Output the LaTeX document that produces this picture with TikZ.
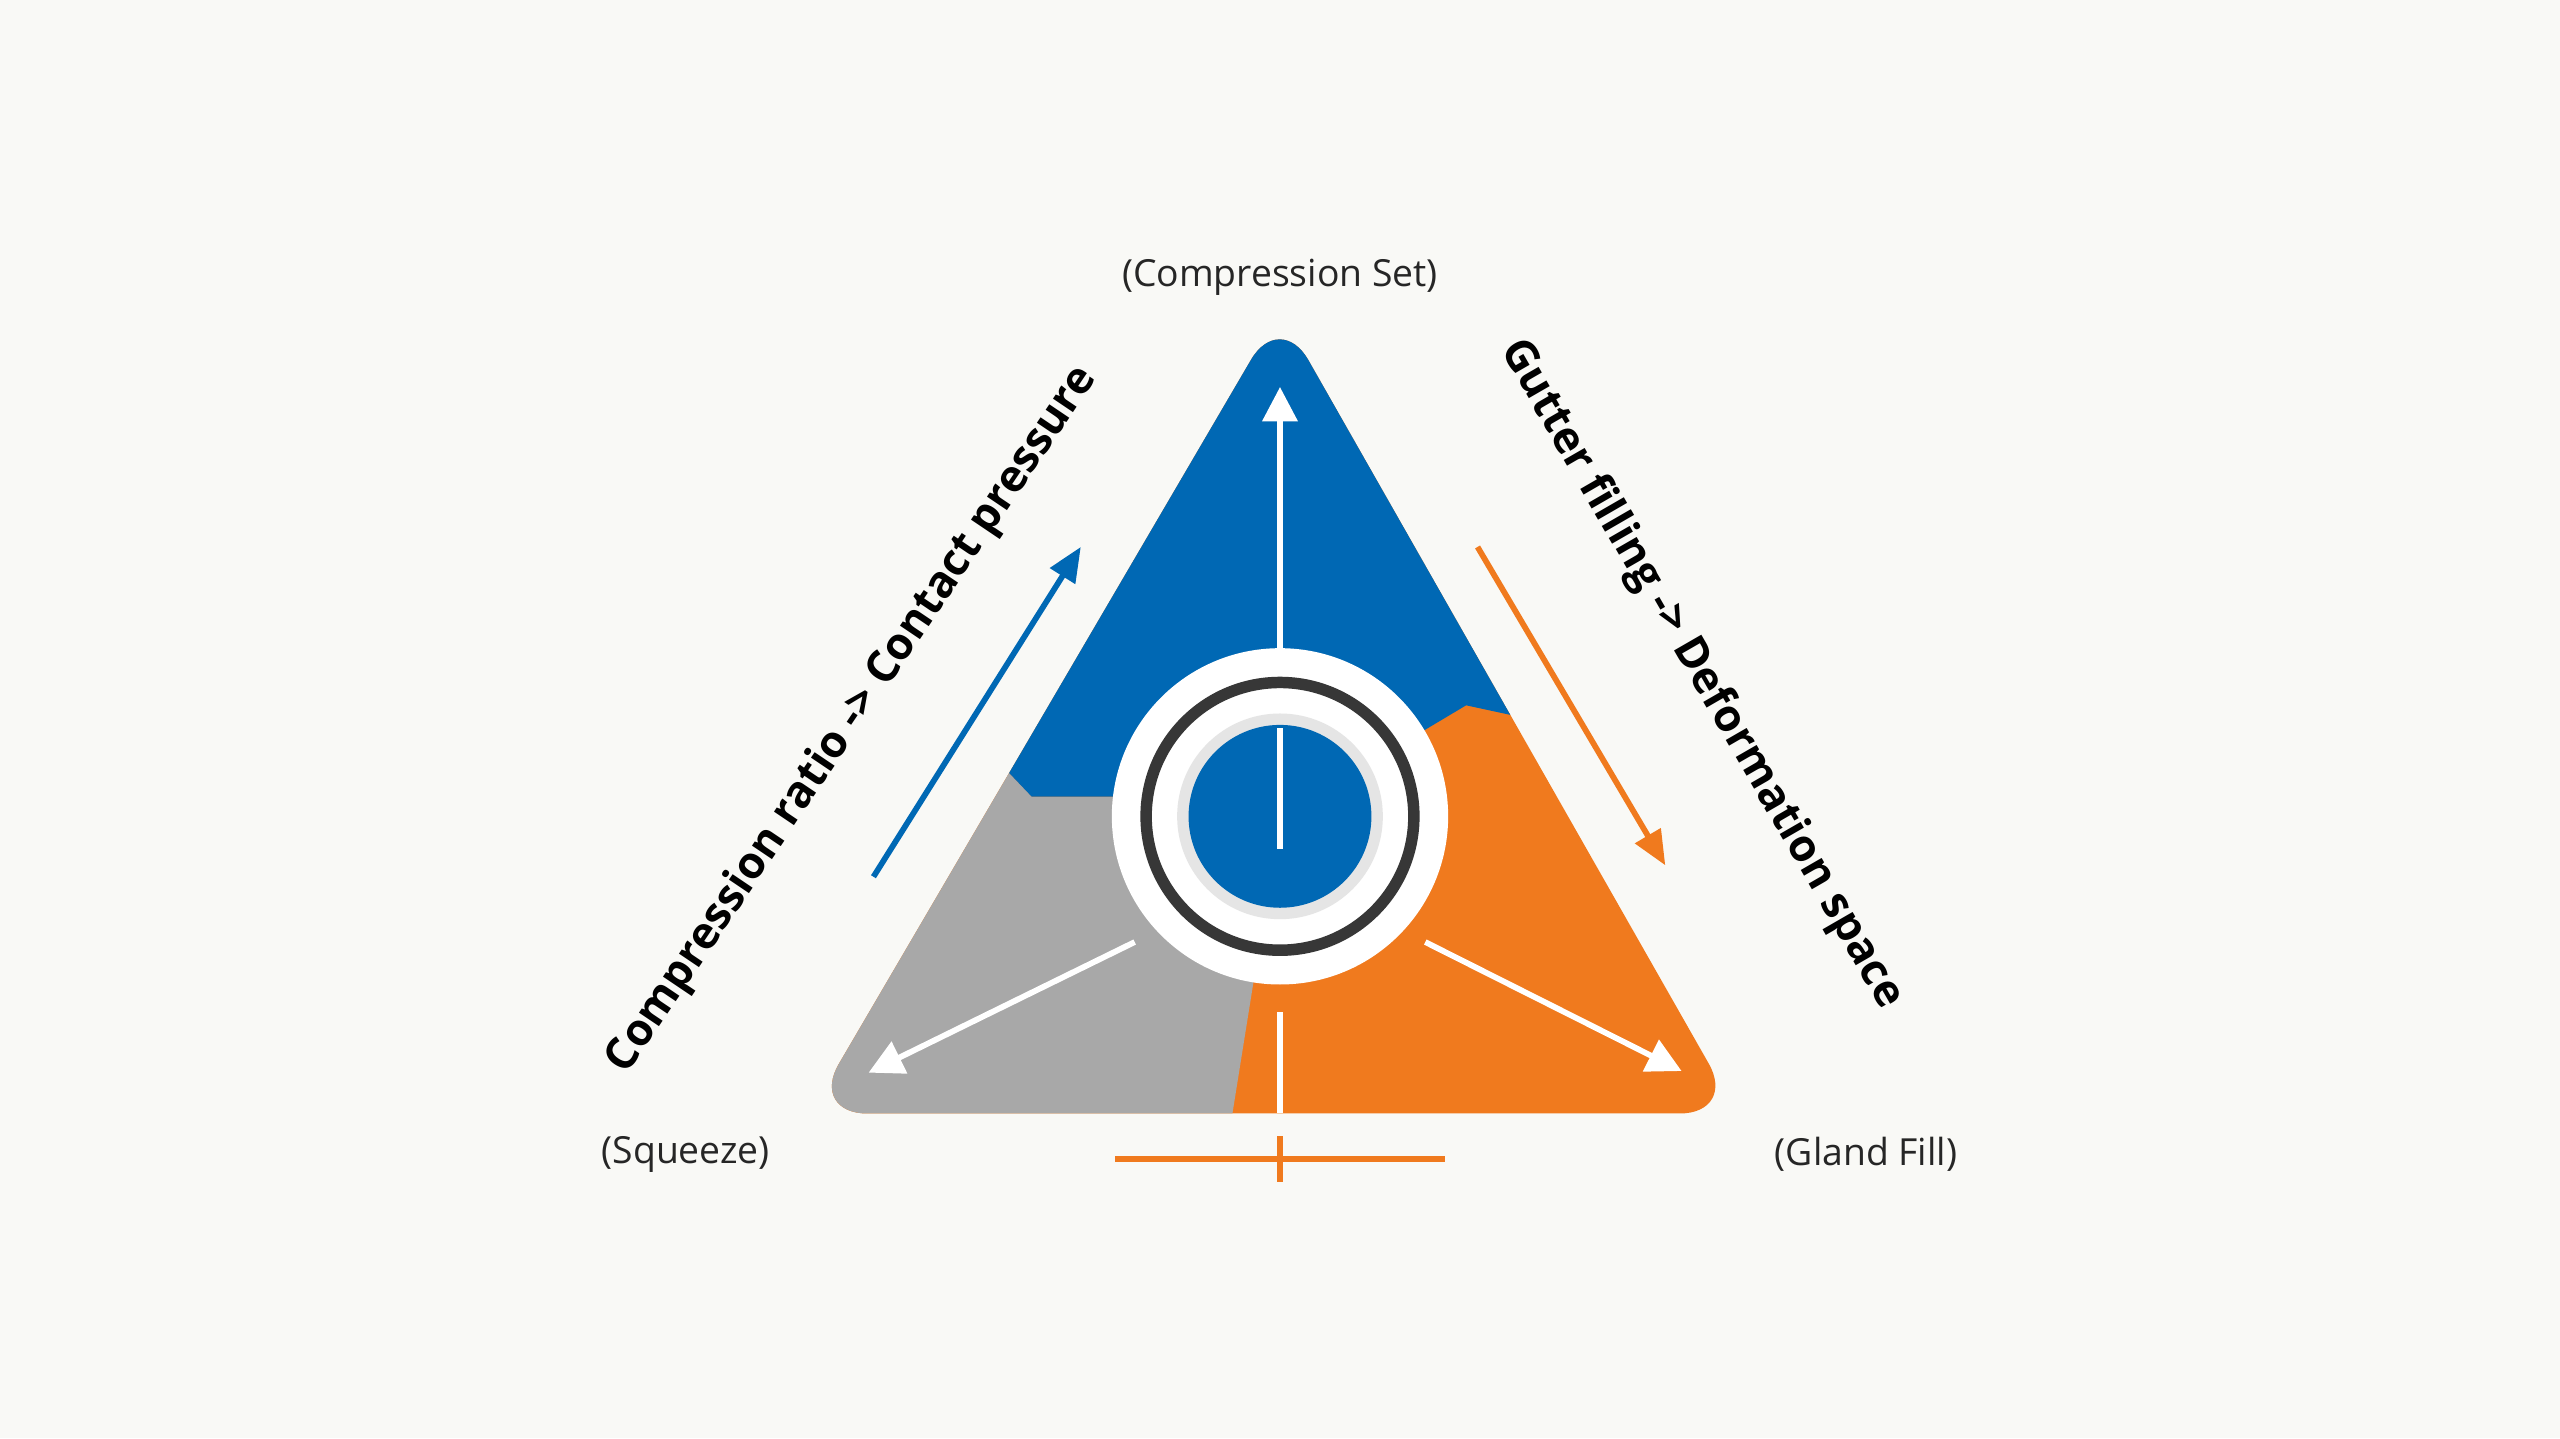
\documentclass[tikz,border=0pt]{standalone}
\usepackage{fontspec}
\setmainfont{Open Sans}
\usetikzlibrary{arrows.meta}
\definecolor{myBlue}{RGB}{0,104,180}
\definecolor{myOrange}{RGB}{240,122,30}
\definecolor{myGray}{RGB}{168,168,168}
\definecolor{myDark}{RGB}{55,55,55}
\definecolor{myPaper}{RGB}{249,249,246}

\begin{document}
\begin{tikzpicture}[x=0.01cm,y=-0.01cm,
    label/.style={font=\fontsize{6.5}{8}\selectfont, text=black!85},
    side/.style={font=\bfseries\fontsize{7.7}{9}\selectfont, text=black},
    white arrow/.style={draw=white, line width=1pt, -{Triangle[length=6pt,width=6pt]}},
]
% background and frame
\fill[myPaper] (0,0) rectangle (1568,881);
\useasboundingbox (0,0) rectangle (1568,881);

% corners of the triangle
\coordinate (top) at (784,190);
\coordinate (left) at (496,682);
\coordinate (right) at (1064,682);
\coordinate (mid) at (784,500);

% the three sectors, clipped to the rounded triangle
\begin{scope}
    \clip[rounded corners=10pt] (top) -- (right) -- (left) -- cycle;
    \fill[myOrange] (400,100) rectangle (1200,700);
    \fill[myGray] (400,467) -- (612,467) -- (632,488) -- (784,488)
        -- (768,600) -- (752,700) -- (400,700) -- cycle;
    \fill[myBlue] (400,100) -- (1200,100) -- (1200,452) -- (935,440)
        -- (898,432) -- (784,500) -- (784,488) -- (632,488)
        -- (612,467) -- (400,467) -- cycle;
\end{scope}

% sealing ring in the centre
\fill[white] (mid) circle (103);
\draw[myDark, line width=2pt] (mid) circle (82);
\fill[black!10] (mid) circle (63);
\fill[myBlue] (mid) circle (56);

% white arrows inside
\coordinate (c0) at (784,520);
\coordinate (c0b) at (784,446);
\coordinate (c1) at (784,398);
\coordinate (t1) at (784,237);
\coordinate (c2) at (695,577);
\coordinate (t2) at (532,657);
\coordinate (c3) at (873,577);
\coordinate (t3) at (1030,656);
\coordinate (c4) at (784,620);
\coordinate (t4) at (784,682);
\draw[white, line width=1pt] (c0) -- (c0b);
\draw[white arrow] (c1) -- (t1);
\draw[white arrow] (c2) -- (t2);
\draw[white arrow] (c3) -- (t3);
\draw[white, line width=1pt] (c4) -- (t4);

% gauge below
\coordinate (g1) at (683,710);
\coordinate (g2) at (885,710);
\coordinate (g3) at (784,696);
\coordinate (g4) at (784,724);
\draw[myOrange, line width=1pt] (g1) -- (g2);
\draw[myOrange, line width=1pt] (g3) -- (g4);

% side arrows
\coordinate (b1) at (535,537);
\coordinate (b2) at (662,335);
\coordinate (o1) at (905,335);
\coordinate (o2) at (1020,530);
\draw[myBlue, line width=1pt, -{Triangle[length=6pt,width=5pt]}] (b1) -- (b2);
\draw[myOrange, line width=1pt, -{Triangle[length=6pt,width=5pt]}] (o1) -- (o2);

% labels
\node[label] (setLabel) at (784,170) {(Compression Set)};
\node[label] (squeezeLabel) at (420,707) {(Squeeze)};
\node[label] (fillLabel) at (1143,707) {(Gland Fill)};
\node[side, rotate=56] (leftText) at (522,441) {Compression ratio -> Contact pressure};
\node[side, rotate=-60] (rightText) at (1042,413) {Gutter filling -> Deformation space};
\end{tikzpicture}
\end{document}
